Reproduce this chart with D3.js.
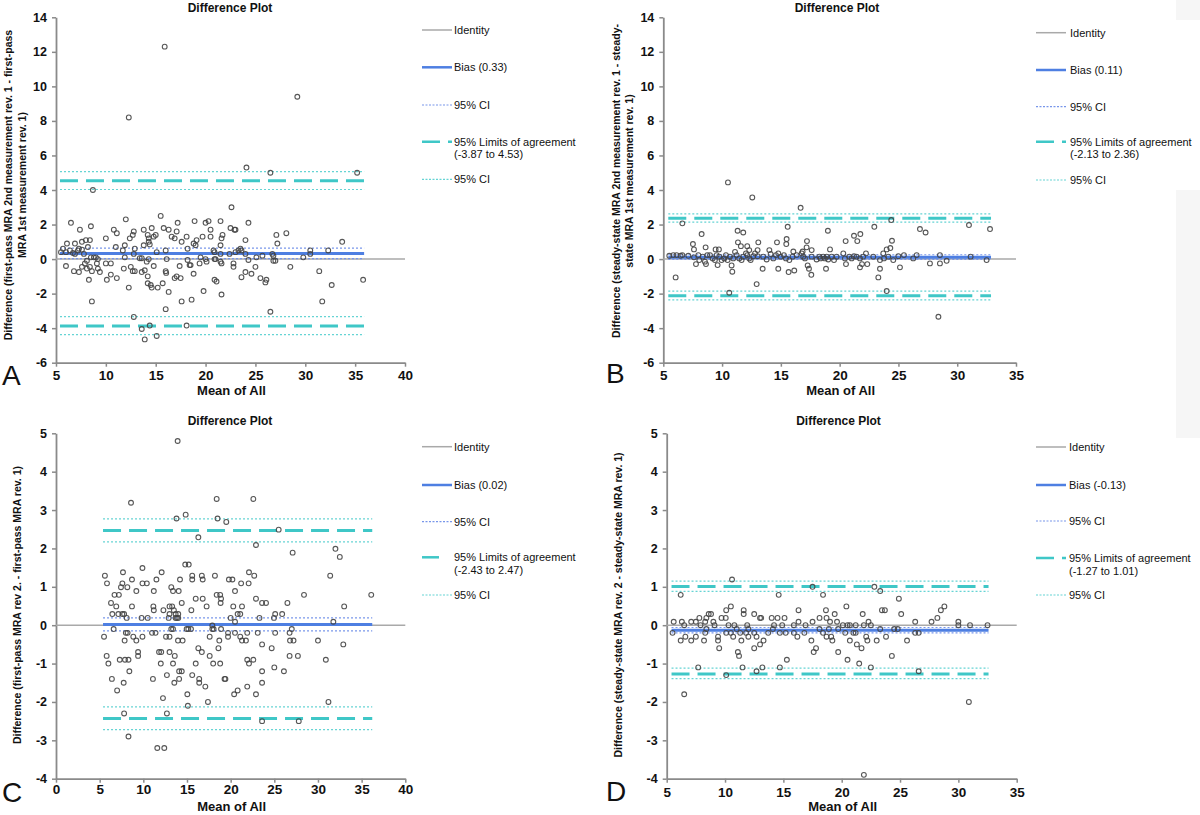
<!DOCTYPE html>
<html>
<head>
<meta charset="utf-8">
<script src="https://cdn.jsdelivr.net/npm/d3@7"></script>
<style>
  body { margin: 0; background: #fff; }
  svg { font-family: Arial, "Liberation Sans", sans-serif; display: block; }
</style>
</head>
<body>
<div id="chart"></div>
<script>
// Panel A: first-pass MRA, 2nd vs 1st measurement (rev. 1)
const ptsA = [
  [15.9,12.3],[12.3,8.2],[29.2,9.4],[24.1,5.3],[26.5,5.0],[35.2,5.0],[8.7,4.0],[22.6,3.0],[15.5,2.5],[12.0,2.3],[6.5,2.1],[17.2,2.1],[18.9,2.2],[20.0,2.1],[20.3,2.2],[21.5,2.2],[24.3,2.1],
  [7.4,1.7],[8.5,1.9],[10.8,1.7],[11.1,1.5],[12.8,1.6],[13.8,1.7],[14.6,1.8],[15.8,1.8],[16.3,1.7],[17.1,1.6],[20.5,1.7],[22.5,1.8],[22.9,1.7],[23.0,1.7],[28.1,1.5],[27.1,1.4],
  [16.6,1.3],[16.9,1.2],[17.6,1.0],[18.1,1.3],[19.1,1.1],[19.7,1.3],[20.5,1.3],[21.6,1.2],[21.7,1.4],[24.0,1.1],[27.2,0.9],[33.7,1.0],
  [8.0,1.1],[8.4,1.1],[7.6,1.0],[10.0,1.2],[12.4,1.2],[12.7,1.4],[14.2,1.4],[14.3,1.2],[14.3,1.0],[14.8,1.3],[15.0,1.4],[14.4,0.85],
  [6.1,0.9],[6.9,0.9],[5.7,0.6],[5.5,0.4],[6.0,0.4],[6.4,0.5],[6.7,0.35],[6.9,0.3],[7.2,0.5],[7.3,0.6],[7.6,0.55],[8.2,0.7],[11.9,0.8],[11.0,0.7],[12.9,0.6],[11.7,0.5],[13.8,0.8],[15.1,0.4],[16.0,0.5],[18.2,0.6],[18.8,0.9],[19.0,0.8],[20.8,0.5],[20.9,0.4],[21.5,0.3],[21.5,0.8],[22.4,0.3],[23.0,0.4],[23.3,0.5],[23.5,0.6],[23.6,0.5],[24.0,0.3],[25.7,0.2],[25.1,0.1],[26.7,0.3],[26.8,0.2],[30.5,0.3],[30.5,0.5],[32.3,0.5],[29.8,0.1],[26.8,-0.1],[27.0,-0.1],
  [8.5,0.1],[8.8,0.1],[9.0,0.1],[9.2,0.0],[7.8,0.3],[11.9,0.1],[12.8,0.3],[13.4,0.05],[13.6,0.05],[14.1,-0.15],[14.3,0.0],[16.1,0.0],[18.2,-0.05],[19.5,0.1],[20.0,0.0],[20.1,-0.15],[20.9,0.0],[21.0,0.0],[21.5,-0.15],[21.6,-0.25],[22.8,-0.25],[24.3,-0.05],[18.5,-0.35],[18.4,-0.35],
  [6.0,-0.4],[6.8,-0.7],[7.3,-0.75],[7.6,-0.45],[7.9,-0.25],[8.1,-0.55],[8.1,-0.1],[8.4,-0.45],[8.6,-0.7],[9.1,-0.25],[9.2,-0.55],[9.4,-0.75],[8.3,-1.2],[10.0,-0.25],[10.1,-1.2],[10.5,-0.9],[10.5,-0.25],[11.1,-1.1],[11.8,-0.55],[12.3,-1.65],[12.5,-0.45],[12.7,-0.7],[12.9,-0.7],[13.6,-0.75],[13.9,-0.65],[14.2,-1.0],[14.2,-1.4],[14.5,-1.5],[14.6,-1.65],[14.8,-0.4],[15.2,-1.65],[15.7,-1.4],[16.0,-0.7],[16.05,-0.8],[16.3,-1.9],[16.0,-2.9],[16.9,-1.1],[17.1,-1.0],[17.4,-0.4],[17.5,-1.1],[17.6,-2.45],[18.8,-0.85],[18.6,-2.35],[19.8,-1.85],[19.4,-0.25],[20.9,-1.2],[21.1,-1.3],[21.6,-2.05],[22.8,-0.45],[23.6,-1.05],[24.0,-0.75],[24.6,-0.85],[25.0,-0.45],[25.5,-1.1],[26.0,-1.35],[26.1,-1.2],[28.5,-0.45],[31.4,-0.7],[31.7,-2.45],[32.65,-1.5],[35.8,-1.2],
  [8.6,-2.45],[12.8,-3.35],[26.5,-3.05],[13.6,-4.05],[14.4,-3.85],[18.1,-3.85],[13.9,-4.65],[15.1,-4.45]
];

// Panel B: steady-state MRA, 2nd vs 1st measurement (rev. 1)
const ptsB = [
  [5.51,0.19],[5.85,0.23],[6.13,0.23],[6.47,0.19],[6.62,0.23],[7.13,0.19],[7.61,0.10],[7.98,0.23],[8.06,-0.06],[8.35,0.14],[8.54,-0.15],[8.74,0.23],[8.97,0.23],[9.2,0.04],[9.39,-0.06],[9.54,0.23],[9.76,0.14],[9.96,-0.06],[10.19,0.04],[10.33,0.23],[10.47,-0.06],[10.67,0.14],[10.95,0.04],[11.1,0.42],[11.24,0.23],[11.46,0.04],[11.66,-0.06],[11.8,0.14],[12.03,0.33],[12.14,0.23],[12.31,0.04],[12.43,-0.06],[12.66,0.17],[12.8,0.33],[13.02,0.17],[13.5,0.14],[13.79,-0.02],[14.13,0.29],[14.36,0.04],[14.58,0.23],[14.78,0.33],[14.98,0.14],[15.26,0.23],[15.43,0.04],[15.72,-0.06],[16.0,0.14],[16.34,0.23],[16.77,0.33],[16.9,0.14],[17.05,0.04],[17.62,0.14],[18.04,-0.02],[18.27,0.14],[18.38,0.04],[18.6,0.14],[18.75,0.04],[18.9,0.14],[19.03,-0.02],[19.32,0.14],[19.52,-0.06],[19.74,0.14],[20.31,0.33],[20.45,0.04],[20.82,0.14],[21.02,0.04],[21.22,0.17],[21.44,0.14],[21.73,0.04],[22.0,0.14],[22.24,0.33],[22.86,0.14],[23.43,-0.06],[23.77,0.04],[24.14,0.14],[24.56,-0.06],[24.99,0.17],[25.47,0.23],[26.26,0.04],[26.55,0.23],[28.53,0.23],[31.14,0.14],[32.5,-0.06],
  [10.5,4.44],[12.57,3.57],[16.68,2.97],[6.62,2.07],[24.39,2.26],[31.0,1.97],[32.79,1.74],[26.83,1.74],[27.31,1.54],[22.95,1.87],[19.0,1.64],[15.58,1.87],[8.26,1.45],[11.32,1.64],[11.8,1.54],[21.22,1.35],[21.76,1.45],
  [7.52,0.87],[7.61,0.56],[8.6,0.68],[9.45,0.56],[9.73,0.56],[11.35,0.97],[11.6,0.75],[13.08,0.97],[14.67,0.97],[15.49,1.16],[15.46,0.87],[17.22,1.04],[17.19,0.68],[17.62,0.52],[19.18,0.56],[20.51,1.04],[21.5,1.04],[24.45,1.06],[24.31,0.64],[24.0,0.56],[12.14,0.75],[12.31,0.52],[13.02,0.52],[14.02,0.52],[16.06,0.44],[16.85,0.44],[23.71,0.33],
  [6.05,-1.06],[7.78,-0.29],[8.63,-0.29],[9.62,-0.35],[10.87,-0.73],[10.81,-0.37],[13.45,-0.56],[14.78,-0.56],[15.66,-0.75],[16.14,-0.66],[12.94,-1.45],[10.61,-1.95],[17.28,-0.37],[17.39,-0.56],[17.59,-0.91],[18.84,-0.56],[20.54,-0.29],[21.73,-0.48],[21.9,-0.29],[22.35,-0.29],[23.29,-1.06],[23.43,-0.56],[24.0,-1.85],[25.13,-0.48],[27.68,-0.25],[28.53,-0.25],[29.1,-0.1],[28.4,-3.34]
];

// Panel C: first-pass MRA, rev. 2 vs rev. 1
const ptsC = [
  [13.93,4.8],[8.59,3.19],[18.4,3.29],[22.6,3.29],[13.8,2.78],[14.85,2.88],[18.5,2.78],[19.5,2.69],[25.5,2.49],[16.3,2.29],[22.9,2.09],[27.1,1.89],[32.0,1.99],[32.5,1.78],
  [5.6,1.29],[7.67,1.38],[9.9,1.49],[12.1,1.38],[14.8,1.58],[15.2,1.58],[15.6,1.29],[16.7,1.29],[18.2,1.29],[22.1,1.38],[22.7,1.29],[31.4,1.29],[36.1,0.79],
  [5.84,1.09],[7.6,1.09],[8.17,0.99],[8.7,1.19],[9.9,1.09],[10.4,1.09],[11.5,1.19],[13.2,0.99],[13.4,0.89],[14.2,1.19],[15.6,1.19],[16.8,1.19],[19.8,1.19],[20.2,1.19],[20.5,0.89],[21.2,1.09],[22.06,1.09],
  [6.7,0.79],[7.2,0.79],[7.44,0.99],[9.2,0.89],[11.2,0.89],[14.05,0.89],[18.4,0.79],[18.8,0.79],[18.9,0.69],[16.0,0.69],[16.8,0.69],[22.9,0.69],[23.6,0.58],[24.05,0.58],[28.4,0.79],
  [6.3,0.58],[6.9,0.49],[8.7,0.49],[11.15,0.49],[13.0,0.49],[13.3,0.49],[14.4,0.58],[17.25,0.49],[18.85,0.58],[20.3,0.49],[21.3,0.49],[26.5,0.58],[33.0,0.49],
  [6.45,0.29],[7.14,0.29],[7.6,0.29],[7.8,0.29],[11.2,0.39],[12.3,0.39],[13.0,0.29],[13.5,0.39],[13.7,0.29],[14.0,0.29],[15.5,0.39],[20.8,0.29],[21.1,0.29],[25.1,0.29],[25.9,0.29],
  [8.1,0.19],[9.8,0.19],[10.5,0.19],[12.9,0.19],[13.7,0.19],[13.85,0.19],[14.0,0.19],[20.0,0.19],[23.3,0.19],[24.96,0.19],[31.76,0.09],[20.5,0.09],[17.9,-0.01],
  [6.6,-0.1],[13.2,-0.1],[13.4,-0.1],[14.96,-0.1],[15.15,-0.1],[15.46,-0.1],[17.9,-0.1],[18.05,-0.1],[18.9,-0.1],[27.0,-0.1],
  [5.5,-0.3],[8.0,-0.2],[8.2,-0.2],[8.85,-0.3],[9.9,-0.3],[9.2,-0.4],[7.86,-0.4],[11.0,-0.2],[11.4,-0.2],[12.6,-0.3],[13.0,-0.3],[13.97,-0.4],[14.5,-0.4],[17.6,-0.3],[18.7,-0.4],[19.7,-0.3],[19.7,-0.2],[20.5,-0.2],[21.1,-0.3],[21.3,-0.4],[21.75,-0.4],[21.9,-0.2],[23.1,-0.2],[25.1,-0.2],[26.75,-0.2],[26.8,-0.4],[27.2,-0.4],[30.0,-0.4],[32.9,-0.5],[23.6,-0.5],[24.7,-0.6],
  [16.3,-0.6],[16.7,-0.7],[18.6,-0.6],[9.4,-0.7],[9.4,-0.8],[11.8,-0.7],[12.05,-0.7],[13.0,-0.7],[13.6,-0.8],[17.6,-0.8],[26.75,-0.8],[27.7,-0.8],[5.8,-0.8],
  [6.0,-1.0],[7.3,-0.9],[7.9,-0.9],[8.3,-0.9],[12.0,-1.0],[13.4,-1.0],[16.0,-1.0],[18.0,-1.0],[18.8,-1.0],[21.9,-0.9],[22.1,-1.0],[22.6,-0.9],[30.9,-0.9],
  [8.4,-1.2],[14.1,-1.2],[14.4,-1.2],[23.6,-1.2],[25.0,-1.1],[26.1,-1.2],[6.4,-1.4],[11.1,-1.4],[14.1,-1.4],[12.7,-1.3],[15.6,-1.3],[16.4,-1.4],[16.4,-1.5],[19.3,-1.4],[19.4,-1.4],[13.55,-1.5],[7.75,-1.5],[23.6,-1.5],
  [17.1,-1.6],[21.9,-1.6],[7.0,-1.7],[20.8,-1.7],[20.4,-1.8],[22.9,-1.8],[15.04,-1.8],[12.25,-1.9],[17.4,-2.0],[31.2,-2.0],[15.1,-2.1],[7.8,-2.3],[12.7,-2.3],[23.6,-2.5],[27.8,-2.5],[8.3,-2.9],[11.6,-3.2],[12.4,-3.2]
];

// Panel D: steady-state MRA, rev. 2 vs rev. 1
const ptsD = [
  [10.6,1.19],[17.5,1.0],[22.8,1.0],[23.3,0.89],[6.2,0.79],[14.6,0.79],[18.4,0.79],[24.9,0.69],[20.4,0.49],[28.8,0.49],[28.5,0.39],[10.5,0.49],[10.1,0.39],[11.6,0.39],[16.3,0.39],[18.65,0.39],[23.45,0.39],[23.7,0.39],
  [28.2,0.19],[27.7,0.09],[25.1,0.29],[11.6,0.29],[12.5,0.29],[8.6,0.29],[8.8,0.29],[19.4,0.29],[21.8,0.29],
  [5.6,0.09],[6.3,0.09],[7.1,0.09],[7.5,0.09],[7.8,0.19],[8.4,0.19],[9.7,0.19],[10.06,0.19],[13.0,0.19],[13.1,0.19],[14.0,0.19],[14.5,0.19],[15.1,0.19],[17.5,0.09],[18.1,0.19],[18.7,0.19],[16.3,0.09],[19.0,0.09],[19.6,0.09],[22.3,0.09],[26.3,0.09],[30.0,0.09],
  [30.0,0.0],[31.0,0.0],[32.5,0.0],[20.1,0.0],[20.5,0.0],[20.7,0.0],[21.2,0.0],[21.9,0.0],[22.5,0.0],[16.9,0.0],[15.9,0.0],[14.9,0.0],[14.2,0.0],[11.9,0.0],[10.8,0.0],[10.3,0.0],[9.1,0.0],[9.0,0.09],[8.3,0.09],[7.9,0.0],[6.5,0.0],
  [5.5,-0.2],[6.2,-0.4],[6.6,-0.3],[7.1,-0.4],[7.5,-0.3],[8.2,-0.4],[8.3,-0.2],[8.4,-0.1],[9.4,-0.3],[9.4,-0.4],[9.5,-0.6],[10.1,-0.2],[10.5,-0.2],[10.7,-0.3],[11.0,-0.1],[11.3,-0.2],[11.4,-0.4],[11.1,-0.7],[11.2,-0.8],[11.5,-1.1],
  [11.8,-0.2],[12.0,-0.1],[12.0,-0.3],[12.5,-0.2],[12.7,-0.3],[12.5,-0.6],[13.0,-0.5],[13.3,-0.4],[13.2,-1.1],[12.7,-1.2],[13.7,-0.2],[14.1,-0.1],[14.7,-0.2],[15.2,-0.2],[15.3,-0.9],[14.7,-1.1],
  [15.9,-0.2],[16.2,-0.3],[16.8,-0.2],[17.4,-0.4],[17.6,-0.7],[17.8,-0.6],[18.1,-0.1],[18.4,-0.2],[18.7,-0.3],[18.9,-0.1],[19.1,-0.3],[19.2,-0.4],[19.7,-0.7],[19.7,-0.1],[20.3,-0.2],[20.7,-0.4],[20.5,-0.9],
  [21.0,-0.2],[21.2,-0.2],[21.3,-0.5],[21.5,-1.0],[21.7,-0.6],[22.1,-0.3],[22.2,-0.4],[22.5,-1.1],[23.0,-0.4],[23.3,-0.1],[23.8,-0.3],[24.3,-0.8],[24.5,-0.1],[24.8,-0.1],[25.6,-0.4],[26.3,-0.2],[26.6,-0.2],[26.6,-1.2],
  [6.5,-1.8],[7.7,-1.1],[10.1,-1.3],[30.9,-2.0],[21.9,-3.9]
];

// Bland-Altman statistics: [bias, bias CI low, bias CI high]
const biasA = [0.33, 0.03, 0.63];
const biasB = [0.11, -0.02, 0.25];
const biasC = [0.02, -0.15, 0.19];
const biasD = [-0.13, -0.20, -0.06];
// limits of agreement: [lower, upper]
const loaA = [-3.87, 4.53];
const loaB = [-2.13, 2.36];
const loaC = [-2.43, 2.47];
const loaD = [-1.27, 1.01];
// CI of limits: [lower lo, lower hi, upper lo, upper hi]
const loaCiA = [-4.38, -3.33, 4.03, 5.06];
const loaCiB = [-2.36, -1.86, 2.14, 2.62];
const loaCiC = [-2.72, -2.13, 2.17, 2.77];
const loaCiD = [-1.39, -1.12, 0.88, 1.15];

const yLabelA = ["Difference (first-pass MRA 2nd measurement rev. 1 - first-pass", "MRA 1st measurement rev. 1)"];
const yLabelB = ["Difference (steady-state MRA 2nd measurement rev. 1 - steady-", "state MRA 1st measurement rev. 1)"];
const yLabelC = ["Difference (first-pass MRA rev 2. - first-pass MRA rev. 1)"];
const yLabelD = ["Difference (steady-state MRA rev. 2 - steady-state MRA rev. 1)"];

const legendNames = ["Identity", "Bias", "95% CI", "95% Limits of agreement", "95% CI"];

const colors = {
  identity: "#a9a9a9",
  bias: "#4e7fe2",
  biasCi: "#7896ea",
  loa: "#3fc7c7",
  loaCi: "#66d4d4",
  axis: "#8a8a8a",
  point: "#444"
};

// plain hyphen for negatives, like the original figure
const fmt2 = v => v.toFixed(2);
const fmtTick = v => String(v);

const W = 1200, H = 815;
const svg = d3.select("#chart").append("svg")
  .attr("width", W)
  .attr("height", H);

// faint grey strip at the right edge of the scan
svg.append("rect").attr("x", 1176).attr("y", 0).attr("width", 24).attr("height", 20).attr("fill", "#f6f6f6");
svg.append("rect").attr("x", 1176).attr("y", 190).attr("width", 24).attr("height", 248).attr("fill", "#f6f6f6");

const panels = [
  { letter: "A", pts: ptsA, bias: biasA, loa: loaA, loaCi: loaCiA, yLabel: yLabelA,
    x0: 56, x1: 405, y0: 362.7, y1: 17.3, xDom: [5, 40], yDom: [-6, 14], yStep: 2, xTickOff: 17,
    titleX: 230, titleY: 12, xLabY: 395, yLabX: [12, 25.5], yLabCy: 185,
    letterX: 2, letterY: 385, legX: 422, legTx: 454, legRows: [30, 67.3, 105, 141.7, 179.3], loaLegLen: 30 },
  { letter: "B", pts: ptsB, bias: biasB, loa: loaB, loaCi: loaCiB, yLabel: yLabelB,
    x0: 663.3, x1: 1016, y0: 362.7, y1: 17.3, xDom: [5, 35], yDom: [-6, 14], yStep: 2, xTickOff: 17,
    titleX: 837, titleY: 12, xLabY: 395, yLabX: [620, 633], yLabCy: 181,
    letterX: 606, letterY: 383, legX: 1036, legTx: 1070, legRows: [32.7, 70, 106.7, 141.7, 180], loaLegLen: 30 },
  { letter: "C", pts: ptsC, bias: biasC, loa: loaC, loaCi: loaCiC, yLabel: yLabelC,
    x0: 56, x1: 405.3, y0: 778.7, y1: 433.3, xDom: [0, 40], yDom: [-4, 5], yStep: 1, xTickOff: 15,
    titleX: 230, titleY: 425, xLabY: 811, yLabX: [21], yLabCy: 605,
    letterX: 2, letterY: 802, legX: 422, legTx: 454, legRows: [446.7, 485, 521.7, 557.3, 595], loaLegLen: 17 },
  { letter: "D", pts: ptsD, bias: biasD, loa: loaD, loaCi: loaCiD, yLabel: yLabelD,
    x0: 666.7, x1: 1016.7, y0: 778.7, y1: 433.3, xDom: [5, 35], yDom: [-4, 5], yStep: 1, xTickOff: 18,
    titleX: 838.5, titleY: 425, xLabY: 811, yLabX: [622], yLabCy: 605,
    letterX: 606, letterY: 801, legX: 1036, legTx: 1069, legRows: [447, 485, 521, 558, 595], loaLegLen: 30 }
];

panels.forEach(drawPanel);

function drawPanel(p) {
  const x = d3.scaleLinear().domain(p.xDom).range([p.x0, p.x1]);
  const y = d3.scaleLinear().domain(p.yDom).range([p.y0, p.y1]);
  const g = svg.append("g");

  // axes
  const yTicks = d3.range(p.yDom[0], p.yDom[1] + 0.001, p.yStep);
  const xTicks = d3.range(p.xDom[0], p.xDom[1] + 0.001, 5);

  const yAxis = g.append("g")
    .attr("transform", "translate(" + p.x0 + ",0)")
    .call(d3.axisLeft(y).tickValues(yTicks).tickFormat(fmtTick).tickSize(4).tickPadding(5).tickSizeOuter(0));
  const xAxis = g.append("g")
    .attr("transform", "translate(0," + p.y0 + ")")
    .call(d3.axisBottom(x).tickValues(xTicks).tickFormat(fmtTick).tickSize(4).tickPadding(p.xTickOff - 13).tickSizeOuter(0));

  [yAxis, xAxis].forEach(function (a) {
    a.select(".domain").attr("stroke", colors.axis).attr("stroke-width", 1.8);
    a.selectAll(".tick line").attr("stroke", colors.axis).attr("stroke-width", 1.5);
    a.selectAll("text").attr("fill", "#111").attr("font-weight", "bold");
  });
  yAxis.selectAll("text").attr("font-size", 12.5);
  xAxis.selectAll("text").attr("font-size", 13.5);

  // identity line across the whole x axis
  g.append("line")
    .attr("x1", x(p.xDom[0])).attr("x2", x(p.xDom[1]))
    .attr("y1", y(0)).attr("y2", y(0))
    .attr("stroke", colors.identity).attr("stroke-width", 1.5);

  // reference lines span the range of the data
  const ext = d3.extent(p.pts, d => d[0]);
  const hLines = [
    { v: p.loaCi[0], c: colors.loaCi, w: 1.2, dash: "2,2" },
    { v: p.loaCi[1], c: colors.loaCi, w: 1.2, dash: "2,2" },
    { v: p.loaCi[2], c: colors.loaCi, w: 1.2, dash: "2,2" },
    { v: p.loaCi[3], c: colors.loaCi, w: 1.2, dash: "2,2" },
    { v: p.loa[0], c: colors.loa, w: 3, dash: "18,8" },
    { v: p.loa[1], c: colors.loa, w: 3, dash: "18,8" },
    { v: p.bias[1], c: colors.biasCi, w: 1.2, dash: "2,2" },
    { v: p.bias[2], c: colors.biasCi, w: 1.2, dash: "2,2" },
    { v: p.bias[0], c: colors.bias, w: 3, dash: null }
  ];
  g.selectAll(".ref")
    .data(hLines)
    .enter().append("line")
    .attr("class", "ref")
    .attr("x1", x(ext[0]) - 1).attr("x2", x(ext[1]) + 1)
    .attr("y1", d => y(d.v)).attr("y2", d => y(d.v))
    .attr("stroke", d => d.c)
    .attr("stroke-width", d => d.w)
    .attr("stroke-dasharray", d => d.dash);

  // points
  g.selectAll(".pt")
    .data(p.pts)
    .enter().append("circle")
    .attr("class", "pt")
    .attr("cx", d => x(d[0]))
    .attr("cy", d => y(d[1]))
    .attr("r", 2.4)
    .attr("fill", "none")
    .attr("stroke", colors.point)
    .attr("stroke-opacity", 0.9)
    .attr("stroke-width", 1.1);

  // titles
  g.append("text")
    .attr("x", p.titleX).attr("y", p.titleY)
    .attr("text-anchor", "middle")
    .attr("font-size", 12).attr("font-weight", "bold").attr("fill", "#111")
    .text("Difference Plot");
  g.append("text")
    .attr("x", (p.x0 + p.x1) / 2 + 1).attr("y", p.xLabY)
    .attr("text-anchor", "middle")
    .attr("font-size", 13).attr("font-weight", "bold").attr("fill", "#111")
    .text("Mean of All");
  p.yLabel.forEach(function (t, i) {
    g.append("text")
      .attr("transform", "translate(" + p.yLabX[i] + "," + p.yLabCy + ") rotate(-90)")
      .attr("text-anchor", "middle")
      .attr("font-size", 10.5).attr("font-weight", "bold").attr("fill", "#111")
      .text(t);
  });
  g.append("text")
    .attr("x", p.letterX).attr("y", p.letterY)
    .attr("font-size", 28).attr("fill", "#111")
    .text(p.letter);

  // legend
  const leg = g.append("g");
  const r = p.legRows;
  const legLines = [
    { y: r[0], c: colors.identity, w: 1.5, dash: null, len: 30 },
    { y: r[1], c: colors.bias, w: 2.5, dash: null, len: 30 },
    { y: r[2], c: colors.biasCi, w: 1.2, dash: "2,1.5", len: 30 },
    { y: r[3], c: colors.loa, w: 2.5, dash: "18,8", len: p.loaLegLen },
    { y: r[4], c: colors.loaCi, w: 1.2, dash: "2,1.5", len: 30 }
  ];
  leg.selectAll("line")
    .data(legLines)
    .enter().append("line")
    .attr("x1", p.legX).attr("x2", d => p.legX + d.len)
    .attr("y1", d => d.y).attr("y2", d => d.y)
    .attr("stroke", d => d.c)
    .attr("stroke-width", d => d.w)
    .attr("stroke-dasharray", d => d.dash);

  const legText = [
    legendNames[0],
    legendNames[1] + " (" + fmt2(p.bias[0]) + ")",
    legendNames[2],
    legendNames[3],
    legendNames[4]
  ];
  leg.selectAll("text.lt")
    .data(legText)
    .enter().append("text")
    .attr("class", "lt")
    .attr("x", p.legTx)
    .attr("y", (d, i) => r[i])
    .attr("dy", "0.35em")
    .attr("font-size", 11).attr("fill", "#111")
    .text(d => d);
  leg.append("text")
    .attr("x", p.legTx).attr("y", r[3] + 12.7)
    .attr("dy", "0.35em")
    .attr("font-size", 11).attr("fill", "#111")
    .text("(" + fmt2(p.loa[0]) + " to " + fmt2(p.loa[1]) + ")");
}
</script>
</body>
</html>
